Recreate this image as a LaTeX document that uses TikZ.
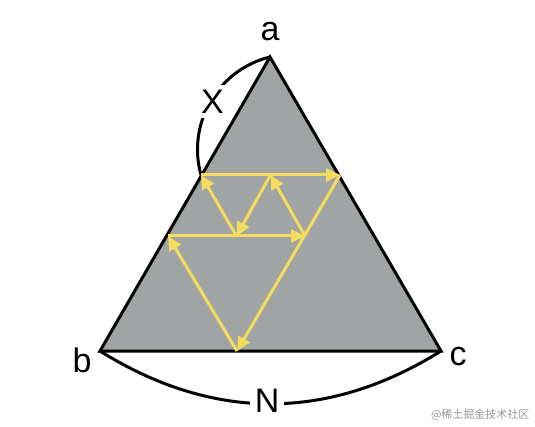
\documentclass[tikz,border=0pt]{standalone}
\usepackage{fontspec}
\setmainfont{Liberation Sans}
\newfontfamily\cjkfont{Noto Sans CJK SC}
\usetikzlibrary{arrows.meta}
\definecolor{trigray}{RGB}{161,164,164}
\definecolor{ray}{RGB}{244,220,92}
\definecolor{wmgray}{RGB}{150,150,150}
\tikzset{
  tri/.style={fill=trigray, draw=black, line width=3pt, line join=miter},
  ray/.style={draw=ray, line width=3pt, -{Triangle[length=14pt,width=13pt]}},
  arcline/.style={draw=black, line width=3pt},
  lbl/.style={font=\fontsize{34}{40}\selectfont, inner sep=1pt},
  gaplbl/.style={font=\fontsize{34}{40}\selectfont, fill=white, inner sep=5pt}
}
\begin{document}
\begin{tikzpicture}[x=1pt,y=-1pt]
\useasboundingbox (0,0) rectangle (535,427);
% vertices
\coordinate (A) at (270,57);
\coordinate (B) at (100,351);
\coordinate (C) at (441,351);
% reflection points
\coordinate (P0) at (237,351);
\coordinate (L2) at (168,236);
\coordinate (R2) at (305,236);
\coordinate (L1) at (201,175);
\coordinate (R1) at (340,175);
\coordinate (M1) at (270.5,175);
\coordinate (M2) at (236.5,236);
% arcs
\draw[arcline] (A) to[bend right=46] node[pos=0.5, gaplbl, xshift=2pt] (X) {X} (L1);
\draw[arcline] (B) to[bend right=32] node[pos=0.49, gaplbl, yshift=3pt] (N) {N} (C);
% triangle
\path[tri] (A) -- (B) -- (C) -- cycle;
% rays
\draw[ray] (P0) -- (L2);
\draw[ray] (L2) -- (R2);
\draw[ray] (R1) -- (P0);
\draw[ray] (L1) -- (R1);
\draw[ray] (M1) -- (M2);
\draw[ray] (M2) -- (L1);
\draw[ray] (R2) -- (M1);
% labels
\node[lbl] (la) at (270,32) {a};
\node[lbl] (lb) at (82,360) {b};
\node[lbl] (lc) at (458,357) {c};
\node[font=\cjkfont\fontsize{11}{13}\selectfont, text=wmgray, anchor=east] (wm) at (533,415) {@稀土掘金技术社区};
\end{tikzpicture}
\end{document}
